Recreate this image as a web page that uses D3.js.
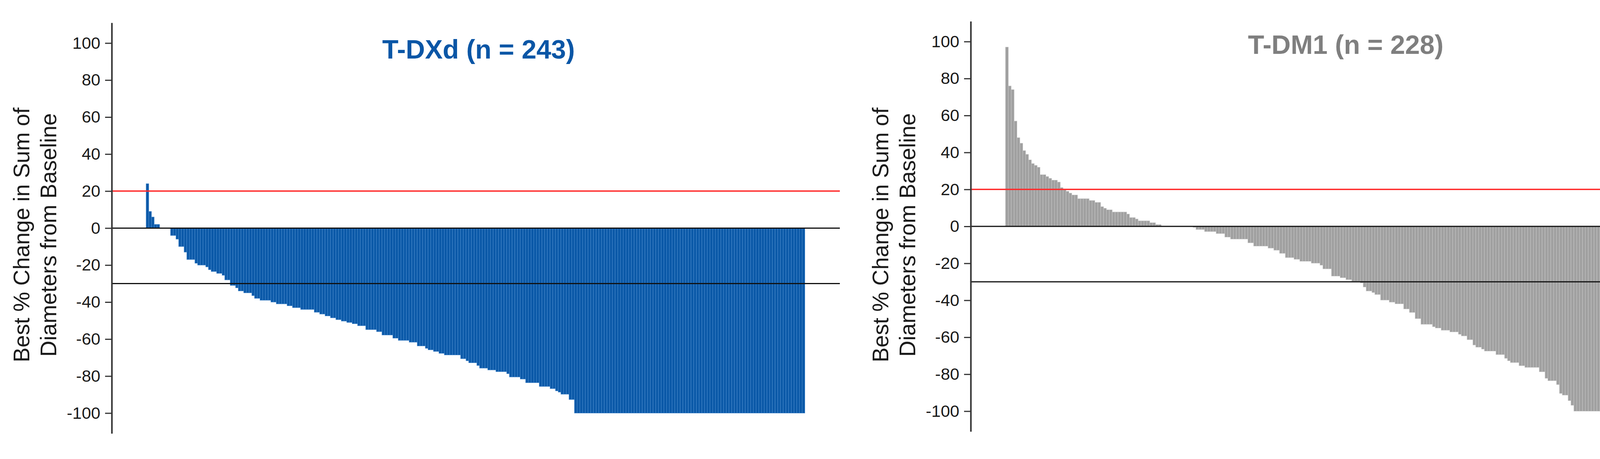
<!DOCTYPE html>
<html>
<head>
<meta charset="utf-8">
<script src="https://cdn.jsdelivr.net/npm/d3@7"></script>
<style>
  html, body { margin: 0; padding: 0; background: #ffffff; }
  svg { display: block; }
</style>
</head>
<body>
<div id="chart"></div>
<script>
// ---------------- DATA ----------------
const titles = ["T-DXd (n = 243)", "T-DM1 (n = 228)"];
const yLabelLines = ["Best % Change in Sum of", "Diameters from Baseline"];
const tickValues = [-100, -80, -60, -40, -20, 0, 20, 40, 60, 80, 100];
const refLines = [20, 0, -30];

// Best % change per patient, T-DXd (sorted waterfall, 243 patients)
const tdxdValues = [
  24, 9, 6, 2, 2, 0, 0, 0, 0,
  -4, -4, -6, -10, -10, -13, -17, -17, -17, -19,
  -20, -20, -20, -21, -22.5, -23.5, -23.5, -24.5, -24.5, -25.5,
  -28, -28, -31, -31, -32.3, -34, -34, -35, -35, -35,
  -36.5, -38, -38, -39, -39, -39, -39, -40, -40, -41,
  -41, -41, -41, -42, -42, -43, -43, -43, -44, -44,
  -44, -44, -44, -45.5, -45.5, -46.5, -46.5, -47.5, -47.5, -48.5,
  -48.5, -49.5, -49.5, -50.3, -50.3, -51, -51, -51.7, -51.7, -52.8,
  -52.8, -52.8, -54.9, -54.9, -54.9, -54.9, -56, -56, -57.8, -57.8,
  -57.8, -57.8, -59.5, -59.5, -60.7, -60.7, -60.7, -60.7, -61.7, -61.7,
  -61.7, -63.7, -63.7, -63.7, -65, -65.8, -65.8, -66.7, -66.7, -67.7,
  -67.7, -68.6, -68.6, -68.6, -68.6, -68.6, -68.6, -70.6, -70.6, -71.7,
  -72.8, -72.8, -72.8, -74.3, -75.7, -75.7, -75.7, -76.7, -76.7, -76.7,
  -77.6, -77.6, -77.6, -77.6, -78.7, -80.5, -80.5, -80.5, -80.5, -81.6,
  -81.6, -83.6, -83.6, -83.6, -83.6, -83.6, -85.6, -85.6, -85.6, -85.6,
  -86.8, -86.8, -88, -88.7, -89.8, -89.8, -89.8, -92.7, -92.7,
  -100, -100, -100, -100, -100, -100, -100, -100, -100, -100,
  -100, -100, -100, -100, -100, -100, -100, -100, -100, -100,
  -100, -100, -100, -100, -100, -100, -100, -100, -100, -100,
  -100, -100, -100, -100, -100, -100, -100, -100, -100, -100,
  -100, -100, -100, -100, -100, -100, -100, -100, -100, -100,
  -100, -100, -100, -100, -100, -100, -100, -100, -100, -100,
  -100, -100, -100, -100, -100, -100, -100, -100, -100, -100,
  -100, -100, -100, -100, -100, -100, -100, -100, -100, -100,
  -100, -100, -100, -100, -100
];

// Best % change per patient, T-DM1 (sorted waterfall, 228 patients)
const tdm1Values = [
  97, 76, 74, 57, 48, 45, 41, 39, 36, 34,
  33, 32, 28, 28, 27, 26, 25, 25, 24, 21,
  20, 19, 18, 17, 17, 15, 15, 15, 15, 14,
  14, 13, 13, 10.7, 9.8, 9, 9, 7.8, 7.8, 7.8,
  7.8, 7.8, 6.7, 4.8, 4.8, 4, 3, 3, 3, 3,
  2, 2, 1, 1, 0, 0, 0, 0, 0, 0,
  0, 0, 0, 0, 0, -0.5, -1.7, -1.7, -1.7, -2.8,
  -2.8, -2.8, -2.8, -3.9, -3.9, -3.9, -5.8, -5.8, -6.9, -6.9,
  -6.9, -6.9, -6.9, -6.9, -8.9, -8.9, -10.7, -10.7, -10.7, -10.7,
  -10.7, -11.8, -11.8, -12.9, -12.9, -14.6, -14.6, -16.9, -16.9, -16.9,
  -17.8, -17.8, -18.9, -18.9, -18.9, -18.9, -19.9, -19.9, -19.9, -21,
  -23, -23, -23, -26.9, -26.9, -26.9, -27.8, -27.8, -28.8, -28.8,
  -29.7, -29.7, -29.7, -30.6, -32.8, -35, -35, -35.8, -36.9, -36.9,
  -39.9, -39.9, -39.9, -41, -41, -41.9, -41.9, -41.9, -44.7, -44.7,
  -46.6, -46.6, -49.9, -49.9, -53, -53, -53, -53, -54.3, -55,
  -55, -56.2, -56.2, -56.2, -57.1, -57.1, -57.1, -58.4, -59.3, -59.3,
  -61.3, -61.3, -64.2, -65.4, -65.4, -66.4, -67.5, -67.5, -67.5, -67.5,
  -69.4, -69.4, -69.4, -71.4, -72.7, -73.7, -73.7, -73.7, -75.4, -75.4,
  -76.3, -76.3, -76.3, -76.3, -76.3, -78.7, -78.7, -82.2, -83.5, -83.5,
  -83.5, -85.6, -90.4, -91.3, -91.3, -94.3, -96.8,
  -100, -100, -100, -100, -100, -100, -100, -100, -100, -100,
  -100, -100, -100, -100, -100, -100, -100, -100, -100, -100,
  -100, -100, -100, -100, -100, -100, -100, -100, -100, -100,
  -100
];

// ---------------- LAYOUT / STYLE ----------------
const W = 4349, H = 1176;
const FONT = "'Liberation Sans', Arial, Helvetica, sans-serif";

const panels = [
  { values: tdxdValues, title: titles[0], axisX: 286, barX0: 374, barX1: 2060.5,
    y0: 584.4, pxPerUnit: 4.74, lineX1: 2150,
    fill: "#0b59a8", stroke: "#4f8fd0", titleColor: "#0a56a6",
    titleX: 1225, titleY: 150 },
  { values: tdm1Values, title: titles[1], axisX: 2485, barX0: 2574, barX1: 4258,
    y0: 580, pxPerUnit: 4.735, lineX1: 4349,
    fill: "#a0a0a0", stroke: "#c9c9c9", titleColor: "#7f7f7f",
    titleX: 3445, titleY: 138 }
];

const svg = d3.select("#chart").append("svg")
  .attr("width", W).attr("height", H)
  .attr("viewBox", `0 0 ${W} ${H}`);
svg.append("rect").attr("width", W).attr("height", H).attr("fill", "#fff");

panels.forEach(p => {
  const g = svg.append("g");
  const yMax = 111, yMin = -111;
  const y = d3.scaleLinear()
    .domain([yMin, yMax])
    .range([p.y0 + (-yMin) * p.pxPerUnit, p.y0 - yMax * p.pxPerUnit]);
  const x = d3.scaleBand()
    .domain(d3.range(p.values.length))
    .range([p.barX0, p.barX1])
    .paddingInner(0).paddingOuter(0);

  // bars
  g.append("g").selectAll("rect")
    .data(p.values)
    .join("rect")
    .attr("x", (d, i) => x(i))
    .attr("width", x.bandwidth())
    .attr("y", d => y(Math.max(0, d)))
    .attr("height", d => Math.abs(y(d) - y(0)))
    .attr("fill", p.fill)
    .attr("stroke", p.stroke)
    .attr("stroke-width", 0.9);

  // reference lines
  g.append("g").selectAll("line")
    .data(refLines)
    .join("line")
    .attr("x1", p.axisX).attr("x2", p.lineX1)
    .attr("y1", d => y(d)).attr("y2", d => y(d))
    .attr("stroke", d => d === 20 ? "#ff2a2a" : "#111")
    .attr("stroke-width", d => d === 20 ? 3.5 : 3);

  // y axis
  const axis = d3.axisLeft(y)
    .tickValues(tickValues)
    .tickFormat(d => String(d))
    .tickSize(17)
    .tickSizeOuter(0)
    .tickPadding(12);
  const ag = g.append("g")
    .attr("transform", `translate(${p.axisX},0)`)
    .call(axis);
  ag.select(".domain").attr("stroke", "#333").attr("stroke-width", 4);
  ag.selectAll(".tick line").attr("stroke", "#333").attr("stroke-width", 3);
  ag.selectAll(".tick text")
    .attr("fill", "#1a1a1a")
    .style("font-family", FONT)
    .style("font-size", "43px");

  // y label (two lines, rotated)
  const yc = 602;
  yLabelLines.forEach((t, k) => {
    const lx = p.axisX - (k === 0 ? 231 : 162);
    g.append("text")
      .attr("transform", `translate(${lx},${yc}) rotate(-90)`)
      .attr("text-anchor", "middle")
      .attr("dominant-baseline", "central")
      .attr("fill", "#1a1a1a")
      .style("font-family", FONT)
      .style("font-size", "57px")
      .text(t);
  });

  // title
  g.append("text")
    .attr("x", p.titleX).attr("y", p.titleY)
    .attr("text-anchor", "middle")
    .attr("fill", p.titleColor)
    .style("font-family", FONT)
    .style("font-weight", "bold")
    .style("font-size", "68px")
    .text(p.title);
});
</script>
</body>
</html>
